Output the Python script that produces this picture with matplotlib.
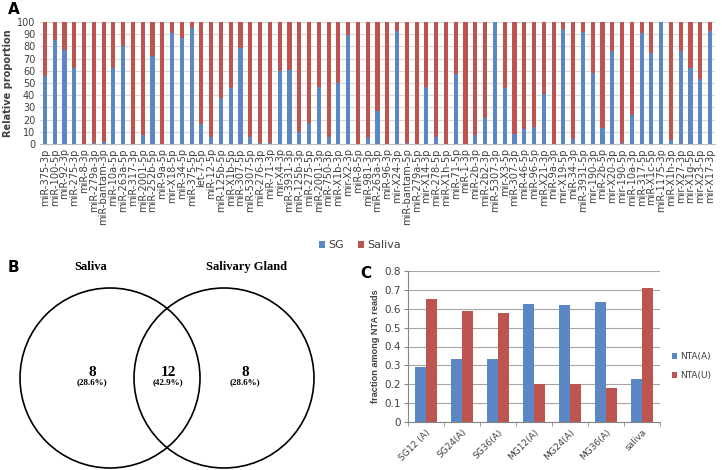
import numpy as np
import matplotlib
matplotlib.use("Agg")
import matplotlib.pyplot as plt
from matplotlib.patches import Circle

# panel A data: % of reads from salivary gland (rest = saliva)
mirnas = ["miR-375-3p", "miR-100-5p", "miR-92-3p", "miR-275-3p", "miR-8-3p", "miR-279a-3p",
          "miR-bantam-3p", "miR-10a-5p", "miR-263a-5p", "miR-317-3p", "miR-2001-5p", "miR-252b-5p",
          "miR-9a-5p", "mir-X18-5p", "miR-34-5p", "miR-375-5p", "let-7-5p", "miR-12-5p",
          "miR-125b-5p", "miR-X1b-5p", "miR-307-5p", "miR-5307-5p", "miR-276-3p", "miR-71-3p",
          "mir-X4-3p", "miR-3931-3p", "miR-125b-3p", "miR-275-5p", "miR-2001-3p", "miR-750-3p",
          "miR-X1b-3p", "mir-X2-3p", "miR-8-5p", "miR-981-3p", "miR-263a-3p", "miR-96-3p",
          "mir-X24-3p", "miR-bantam-5p", "miR-279a-5p", "mir-X14-3p", "miR-278-5p", "miR-X1h-5p",
          "miR-71-5p", "miR-1-3p", "miR-2b-3p", "miR-2b2-3p", "miR-5307-3p", "mir-X3-5p",
          "miR-307-3p", "miR-46-5p", "miR-96-5p", "miR-X21-3p", "miR-9a-3p", "mir-X19-5p",
          "miR-34-3p", "miR-3931-5p", "mir-190-3p", "miR-2b-5p", "mir-X20-3p", "mir-190-5p",
          "miR-10a-3p", "miR-317-5p", "miR-X1c-5p", "miR-1175-3p", "miR-X1h-3p", "mir-X27-3p",
          "mir-X1g-5p", "mir-X23-5p", "mir-X17-3p"]
sg_pct = [56, 85, 77, 62, 0, 1, 2, 62, 80, 0, 7, 72,
          0, 91, 87, 95, 16, 6, 38, 46, 79, 6, 1, 1,
          60, 61, 10, 17, 47, 6, 50, 89, 0, 5, 27, 0,
          93, 1, 0, 47, 6, 0, 57, 0, 7, 21, 100, 46,
          8, 12, 14, 41, 0, 94, 4, 92, 58, 13, 76, 1,
          24, 91, 75, 100, 3, 76, 62, 53, 93]
saliva_pct = [100 - v for v in sg_pct]

# panel B venn counts
venn_titles = ["Saliva", "Salivary Gland"]
venn_counts = [8, 12, 8]
venn_pcts = ["(28.6%)", "(42.9%)", "(28.6%)"]

# panel C data
samples = ["SG12 (A)", "SG24(A)", "SG36(A)", "MG12(A)", "MG24(A)", "MG36(A)", "saliva"]
nta_a = [0.29, 0.335, 0.335, 0.625, 0.62, 0.635, 0.23]
nta_u = [0.65, 0.59, 0.58, 0.20, 0.20, 0.18, 0.71]

blue = "#5B87C5"
red = "#BE5450"
txt = "#404040"
W, H = 722, 470

def box(l, t, r, b):
    return [l / W, 1 - b / H, (r - l) / W, (b - t) / H]

fig = plt.figure(figsize=(W / 100, H / 100), dpi=100)

# ---- A: stacked proportions
axA = fig.add_axes(box(40, 22, 715, 144))
x = np.arange(len(mirnas))
axA.bar(x, sg_pct, width=0.42, color=blue, label="SG", zorder=3)
axA.bar(x, saliva_pct, width=0.42, bottom=sg_pct, color=red, label="Saliva", zorder=3)
axA.set_xlim(-0.5, len(mirnas) - 0.5)
axA.set_ylim(0, 100)
axA.set_yticks(range(0, 101, 10))
axA.yaxis.grid(True, color="#d9d9d9", lw=0.8)
axA.set_xticks(x)
axA.set_xticklabels(mirnas, rotation=90, fontsize=7.1, color=txt)
axA.tick_params(axis="y", labelsize=7, colors=txt, length=0)
axA.tick_params(axis="x", length=0, pad=3)
for s in ["top", "right", "left"]:
    axA.spines[s].set_visible(False)
axA.spines["bottom"].set_color("#bfbfbf")
axA.set_ylabel("Relative proportion", fontsize=7, color=txt, fontweight="bold", labelpad=3)
axA.legend(loc="center", bbox_to_anchor=(360 / W, 1 - 245 / H), bbox_transform=fig.transFigure,
           ncol=2, frameon=False, fontsize=8, handlelength=0.6, handleheight=0.6,
           handletextpad=0.3, columnspacing=1.2, labelcolor=txt)
fig.text(8 / W, 1 - 9 / H, "A", fontsize=11, fontweight="bold", va="center")

# ---- B: venn diagram, drawn in pixel coords
axB = fig.add_axes(box(0, 270, 360, 470))
axB.set_xlim(0, 360)
axB.set_ylim(470, 270)
axB.axis("off")
centers = [(110, 378), (224, 378)]
for cx, cy in centers:
    axB.add_patch(Circle((cx, cy), 90, fill=False, lw=1.2, ec="black"))
serif = "Liberation Serif"
fig.text(91 / W, 1 - 267 / H, venn_titles[0], ha="center", va="center", family=serif, fontweight="bold", fontsize=9)
fig.text(247 / W, 1 - 267 / H, venn_titles[1], ha="center", va="center", family=serif, fontweight="bold", fontsize=9)
for xp, n, p in zip([92, 168, 245], venn_counts, venn_pcts):
    axB.text(xp, 372, str(n), ha="center", va="center", family=serif, fontweight="bold", fontsize=11)
    axB.text(xp, 382, p, ha="center", va="center", family=serif, fontweight="bold", fontsize=6.5)
fig.text(8 / W, 1 - 267 / H, "B", fontsize=11, fontweight="bold", va="center")

# ---- C: NTA fractions
axC = fig.add_axes(box(408, 271, 660, 422))
xc = np.arange(len(samples))
axC.bar(xc - 0.15, nta_a, width=0.3, color=blue, label="NTA(A)", zorder=3)
axC.bar(xc + 0.15, nta_u, width=0.3, color=red, label="NTA(U)", zorder=3)
axC.set_xlim(-0.5, len(samples) - 0.5)
axC.set_ylim(0, 0.8)
axC.set_yticks(np.arange(0, 0.81, 0.1))
axC.set_yticklabels(["0"] + ["%.1f" % v for v in np.arange(0.1, 0.81, 0.1)])
axC.yaxis.grid(True, color="#a6a6a6", lw=0.8)
axC.set_xticks(xc)
axC.set_xticklabels(samples, rotation=45, ha="right", rotation_mode="anchor", fontsize=6.5, color=txt)
axC.set_xticks(np.arange(-0.5, len(samples), 1), minor=True)
axC.tick_params(axis="x", which="major", length=0, pad=4)
axC.tick_params(axis="x", which="minor", length=3, color="#868686")
axC.tick_params(axis="y", labelsize=7.5, colors=txt, length=3, color="#868686", pad=2)
for s in ["top", "right"]:
    axC.spines[s].set_visible(False)
axC.spines["left"].set_color("#868686")
axC.spines["bottom"].set_color("#868686")
axC.set_ylabel("fraction among NTA reads", fontsize=6.6, fontweight="bold", color=txt,
               family="Liberation Sans", labelpad=3)
axC.legend(loc="center left", bbox_to_anchor=(672 / W, 1 - 366 / H), bbox_transform=fig.transFigure,
           frameon=False, fontsize=6.5, handlelength=0.6, handleheight=0.6, handletextpad=0.3,
           labelspacing=1.1, labelcolor=txt, borderaxespad=0, borderpad=0)
fig.text(360 / W, 1 - 274 / H, "C", fontsize=11, fontweight="bold", va="center")

fig.savefig("out.png", dpi=100)
